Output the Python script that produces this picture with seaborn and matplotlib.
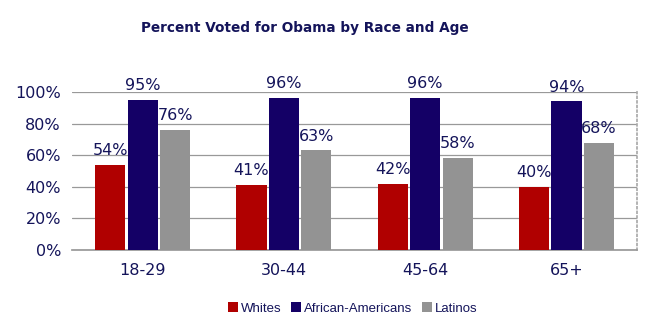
import matplotlib
matplotlib.use("Agg")
import matplotlib.pyplot as plt
import seaborn as sns
import pandas as pd

age_groups = ["18-29", "30-44", "45-64", "65+"]
races = ["Whites", "African-Americans", "Latinos"]
whites = [54, 41, 42, 40]
african_americans = [95, 96, 96, 94]
latinos = [76, 63, 58, 68]
y_ticks = [0, 20, 40, 60, 80, 100]

colors = ["#B00000", "#140066", "#939393"]
navy = "#14145A"

rows = []
for race, vals in zip(races, [whites, african_americans, latinos]):
    for age, v in zip(age_groups, vals):
        rows.append({"Age": age, "Race": race, "Pct": v})
df = pd.DataFrame(rows)

sns.set_theme(style="white")
plt.rcParams["font.family"] = ["DejaVu Sans"]

fig = plt.figure(figsize=(6.57, 3.29), dpi=100)
ax = fig.add_axes([0.1096, 0.2401, 0.86, 0.4803])

sns.barplot(data=df, x="Age", y="Pct", hue="Race", order=age_groups,
            hue_order=races, palette=colors, width=0.69, gap=0.07,
            saturation=1, errorbar=None, ax=ax, legend=True, zorder=3,
            linewidth=0, edgecolor="none")

for c in ax.containers:
    ax.bar_label(c, labels=[f"{int(v)}%" for v in c.datavalues],
                 fontsize=11.5, color=navy, padding=5)

ax.set_ylim(0, 100)
ax.set_xlim(-0.5, 3.5)
ax.set_yticks(y_ticks)
ax.set_yticklabels([f"{t}%" for t in y_ticks], fontsize=11.5, color=navy)
ax.tick_params(axis="x", labelsize=11.5, colors=navy, length=0, pad=9)
ax.tick_params(axis="y", length=0, pad=8)
ax.set_xlabel("")
ax.set_ylabel("")
ax.yaxis.grid(True, color="#999999", linewidth=0.9, zorder=0)
ax.set_axisbelow(True)
for s in ["top", "left"]:
    ax.spines[s].set_visible(False)
ax.spines["right"].set_color("#AAAAAA")
ax.spines["right"].set_linestyle(":")
ax.spines["bottom"].set_color("#999999")

leg = ax.legend(loc="upper center", bbox_to_anchor=(0.497, -0.255), ncol=3,
                frameon=False, handlelength=0.75, handleheight=0.75,
                handletextpad=0.25, columnspacing=0.7,
                prop={"family": "Liberation Sans", "size": 9.5})
for t in leg.get_texts():
    t.set_color(navy)

fig.text(0.464, 0.915, "Percent Voted for Obama by Race and Age",
         ha="center", va="center", fontsize=9.8, fontweight="bold", color=navy)

fig.savefig("out.png", dpi=100)
